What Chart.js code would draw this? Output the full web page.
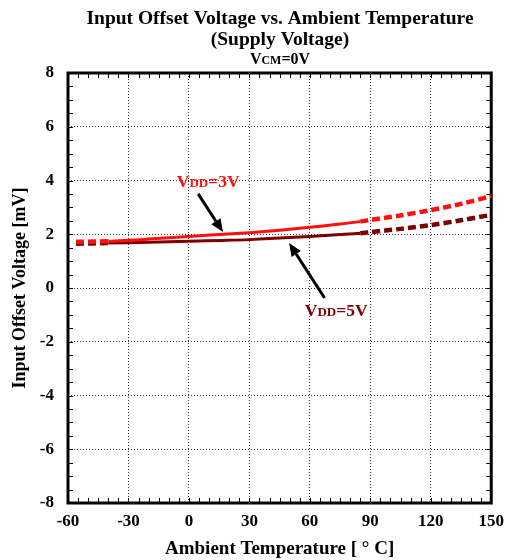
<!DOCTYPE html>
<html>
<head>
<meta charset="utf-8">
<script src="https://cdn.jsdelivr.net/npm/chart.js@4.4.1/dist/chart.umd.min.js"></script>
<style>
  html, body { margin: 0; padding: 0; background: #fff; }
  #wrap { width: 512px; height: 560px; }
</style>
</head>
<body>
<div id="wrap"><canvas id="chart" width="512" height="560"></canvas></div>
<script>
// ===== Data =====
const temps = [-56, -40, -20, 0, 17, 30, 45, 60, 75, 85, 90, 105, 120, 135, 150];
const vdd3V = [1.72, 1.74, 1.82, 1.92, 2.00, 2.06, 2.15, 2.26, 2.38, 2.47, 2.53, 2.70, 2.90, 3.13, 3.42];
const vdd5V = [1.65, 1.67, 1.70, 1.74, 1.77, 1.80, 1.86, 1.92, 1.99, 2.04, 2.08, 2.20, 2.34, 2.52, 2.72];
const xTicks = [-60, -30, 0, 30, 60, 90, 120, 150];
const yTicks = [-8, -6, -4, -2, 0, 2, 4, 6, 8];
// measured range drawn solid, the rest dashed
const solidFrom = -40;
const solidTo = 85;

// annotation anchors, in data units [temp, mV]
const label3V = [-6, 3.76];
const arrow3V = [[4.6, 3.5], [16.9, 2.08]];
const label5V = [57.5, -1.04];
const arrow5V = [[67.3, -0.37], [49.7, 1.67]];

const RED = '#ff1010';
const DARK = '#7d0000';
const SERIF = "'Liberation Serif', 'Times New Roman', serif";

Chart.defaults.font.family = SERIF;
Chart.defaults.font.weight = 'bold';
Chart.defaults.color = '#000';

function dashedSeg(ctx) {
  const a = ctx.p0.parsed.x, b = ctx.p1.parsed.x;
  return (b <= solidFrom || a >= solidTo);
}

// ===== Helper: text with small subscript part =====
function richText(c, parts, x, y, align) {
  let w = 0;
  parts.forEach(p => { c.font = `bold ${p.size}px ${SERIF}`; w += c.measureText(p.t).width; });
  let cx = align === 'center' ? x - w / 2 : x;
  c.textBaseline = 'alphabetic';
  c.textAlign = 'left';
  parts.forEach(p => {
    c.font = `bold ${p.size}px ${SERIF}`;
    c.fillText(p.t, cx, y);
    cx += c.measureText(p.t).width;
  });
}

function arrow(c, x0, y0, x1, y1) {
  const ang = Math.atan2(y1 - y0, x1 - x0);
  const len = 13, half = 5.5;
  const bx = x1 - len * Math.cos(ang), by = y1 - len * Math.sin(ang);
  c.strokeStyle = '#000';
  c.lineWidth = 3;
  c.beginPath();
  c.moveTo(x0, y0);
  c.lineTo(bx, by);
  c.stroke();
  c.fillStyle = '#000';
  c.beginPath();
  c.moveTo(x1, y1);
  c.lineTo(bx + half * Math.sin(ang), by - half * Math.cos(ang));
  c.lineTo(bx - half * Math.sin(ang), by + half * Math.cos(ang));
  c.closePath();
  c.fill();
}

// ===== Plugin: frame, minor ticks, titles, annotations =====
const decor = {
  id: 'decor',
  beforeDatasetsDraw(chart) {
    const c = chart.ctx;
    const a = chart.chartArea;
    const xs = chart.scales.x, ys = chart.scales.y;
    c.save();
    c.strokeStyle = '#000';
    c.lineWidth = 1;
    c.beginPath();
    for (let t = xs.min; t <= xs.max; t += 5) {
      const px = Math.round(xs.getPixelForValue(t)) + 0.5;
      c.moveTo(px, a.bottom); c.lineTo(px, a.bottom - 5);
      c.moveTo(px, a.top); c.lineTo(px, a.top + 5);
    }
    for (let v = ys.min; v <= ys.max; v += 0.5) {
      const py = Math.round(ys.getPixelForValue(v)) + 0.5;
      c.moveTo(a.left, py); c.lineTo(a.left + 5, py);
      c.moveTo(a.right, py); c.lineTo(a.right - 5, py);
    }
    c.stroke();
    c.lineWidth = 3;
    c.strokeRect(a.left, a.top, a.right - a.left, a.bottom - a.top);
    c.restore();
  },
  afterDraw(chart) {
    const c = chart.ctx;
    const xs = chart.scales.x, ys = chart.scales.y;
    const P = d => [xs.getPixelForValue(d[0]), ys.getPixelForValue(d[1])];
    c.save();
    c.fillStyle = '#000';
    c.textAlign = 'center';
    c.textBaseline = 'alphabetic';
    c.font = `bold 19.5px ${SERIF}`;
    c.fillText('Input Offset Voltage vs. Ambient Temperature', 280, 24);
    c.fillText('(Supply Voltage)', 280, 45);
    richText(c, [{t: 'V', size: 16}, {t: 'CM', size: 12}, {t: '=0V', size: 16}], 280, 64, 'center');

    c.fillStyle = RED;
    const l3 = P(label3V);
    richText(c, [{t: 'V', size: 17.5}, {t: 'DD', size: 13}, {t: '=3V', size: 17.5}], l3[0], l3[1]);
    c.fillStyle = DARK;
    const l5 = P(label5V);
    richText(c, [{t: 'V', size: 17.5}, {t: 'DD', size: 13}, {t: '=5V', size: 17.5}], l5[0], l5[1]);

    let t0 = P(arrow3V[0]), t1 = P(arrow3V[1]);
    arrow(c, t0[0], t0[1], t1[0], t1[1]);
    t0 = P(arrow5V[0]); t1 = P(arrow5V[1]);
    arrow(c, t0[0], t0[1], t1[0], t1[1]);
    c.restore();
  }
};

function makeSet(label, values, color) {
  return {
    label,
    data: temps.map((t, i) => ({x: t, y: values[i]})),
    borderColor: color,
    backgroundColor: color,
    borderWidth: 3,
    pointRadius: 0,
    tension: 0.3,
    fill: false,
    segment: {
      borderDash: ctx => dashedSeg(ctx) ? [8, 4] : undefined,
      borderWidth: ctx => dashedSeg(ctx) ? 4.5 : 3
    }
  };
}

const gridStyle = {
  color: '#333',
  lineWidth: 1,
  drawTicks: false
};

new Chart(document.getElementById('chart').getContext('2d'), {
  type: 'line',
  data: {
    datasets: [
      makeSet('VDD=3V', vdd3V, RED),
      makeSet('VDD=5V', vdd5V, DARK)
    ]
  },
  options: {
    responsive: false,
    animation: false,
    devicePixelRatio: 1,
    layout: { padding: { left: 0, right: 15, top: 73, bottom: 0 } },
    plugins: {
      legend: { display: false },
      title: { display: false },
      tooltip: { enabled: false }
    },
    scales: {
      x: {
        type: 'linear',
        min: -60,
        max: 150,
        afterBuildTicks: s => { s.ticks = xTicks.map(v => ({value: v})); },
        afterFit: s => { s.height = 57; },
        border: { display: false, dash: [1, 2] },
        grid: Object.assign({}, gridStyle),
        ticks: { padding: 8, font: { size: 17, weight: 'bold' }, maxRotation: 0 },
        title: {
          display: true,
          text: 'Ambient Temperature [ \u00b0 C]',
          font: { size: 19, weight: 'bold' },
          padding: { top: 11, bottom: 0 }
        }
      },
      y: {
        type: 'linear',
        min: -8,
        max: 8,
        afterBuildTicks: s => { s.ticks = yTicks.map(v => ({value: v})); },
        afterFit: s => { s.width = 68; },
        border: { display: false, dash: [1, 2] },
        grid: Object.assign({}, gridStyle),
        ticks: { padding: 14, font: { size: 17, weight: 'bold' } },
        title: {
          display: true,
          text: 'Input Offset Voltage [mV]',
          font: { size: 18, weight: 'bold' },
          padding: { top: 10, bottom: 0 }
        }
      }
    }
  },
  plugins: [decor]
});
</script>
</body>
</html>
